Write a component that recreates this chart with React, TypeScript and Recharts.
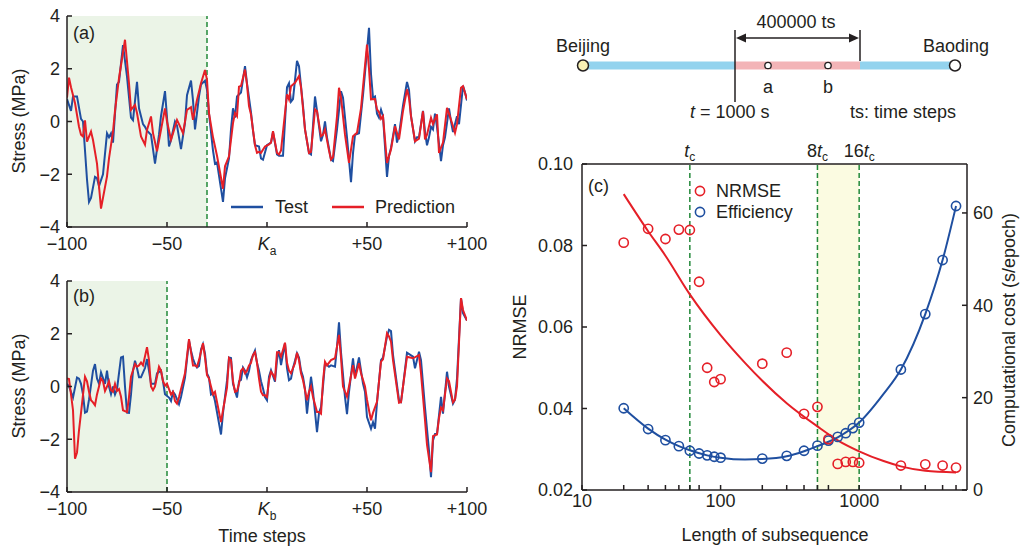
import React from "react";
import {
  ComposedChart,
  Line,
  LineChart,
  ReferenceArea,
  ReferenceLine,
  Scatter,
  XAxis,
  YAxis,
} from "recharts";

const FONT = "'Liberation Sans', Arial, sans-serif";
const INK = "#231f20";
const BLUE = "#1f4fa0";
const RED = "#e51f27";
const GREEN = "#23893a";

// (a) stress around K_a: [time step, MPa]
const aTest: [number, number][] = [
  [-100, 0.85], [-98, 0.4], [-97, 0.95], [-95, 0.95], [-93, 0.1], [-92, 0.0], [-90, -2.2], [-89, -3.05],
  [-88, -2.9], [-86, -2.1], [-85, -2.15], [-84, -2.45], [-82, -2.0], [-80, -0.45], [-79, -0.6], [-78, -0.45],
  [-77, -0.8], [-75, 1.4], [-74, 1.5], [-72, 2.9], [-70, 1.7], [-68, 0.15], [-67, 0.05], [-65, 1.5],
  [-64, 0.5], [-62, -0.1], [-61, -0.2], [-60, -0.35], [-58, -0.5], [-56, -1.6], [-54, -0.5], [-53, 0.2],
  [-51, 1.15], [-50, 0.15], [-49, -0.95], [-48, -0.7], [-46, 0.0], [-45, -0.15], [-43, -1.05], [-41, -0.05],
  [-40, 1.0], [-38, 1.55], [-37, 0.8], [-36, -0.3], [-34, 0.95], [-33, 1.4], [-31, 1.55], [-30, 1.2],
  [-29, 0.3], [-27, -1.1], [-26, -1.6], [-25, -1.55], [-22, -3.05], [-21, -2.15], [-19, -1.4], [-18, -0.3],
  [-17, 0.5], [-16, 0.15], [-15, 0.95], [-13, 1.1], [-11, 2.1], [-10, 1.45], [-8, 0.35], [-7, -0.35],
  [-6, -0.9], [-4, -0.95], [-3, -1.4], [-2, -1.45], [0, -0.9], [2, -0.8], [3, -0.4], [5, -1.25],
  [6, -1.3], [8, -1.3], [10, 1.3], [11, 1.45], [12, 0.75], [13, 0.85], [15, 2.3], [16, 2.1],
  [18, 0.6], [19, -0.3], [21, -1.2], [22, -1.25], [24, 0.95], [25, 0.4], [27, -0.75], [28, -0.5],
  [29, 0.0], [30, -0.6], [32, -1.45], [33, -1.5], [35, -0.3], [37, 1.15], [38, 0.9], [40, -0.6],
  [42, -2.3], [43, -1.2], [44, -0.5], [46, -0.45], [48, 1.0], [51, 3.55], [52, 1.8], [53, 0.9],
  [54, 0.95], [55, 0.3], [56, 0.15], [57, 0.45], [58, 0.2], [60, -2.1], [61, -1.3], [62, -1.0],
  [64, -0.1], [65, -0.8], [66, -0.5], [68, 0.6], [70, 1.5], [71, 1.2], [72, 0.2], [74, -0.75],
  [75, -0.6], [76, -0.6], [78, 0.4], [79, -0.4], [80, -0.9], [81, -0.6], [82, -0.2], [83, -0.3],
  [84, 0.3], [85, -0.2], [87, -1.5], [88, -0.9], [89, -0.6], [91, 0.5], [92, 0.0], [93, -0.4],
  [95, 0.2], [96, -0.1], [98, 1.35], [99, 1.1], [100, 0.8],
];

const aPred: [number, number][] = [
  [-100, 0.9], [-99, 1.66], [-98, 1.3], [-96, 0.7], [-94, -0.2], [-93, -0.5], [-92, -0.57], [-91, 0.04],
  [-90, -0.76], [-88, -0.38], [-87, -0.7], [-85, -1.6], [-83, -3.3], [-80, -2.08], [-79, -1.4], [-77, -0.38],
  [-76, 0.4], [-74, 1.64], [-71, 3.1], [-69, 1.45], [-68, 0.44], [-66, 0.63], [-65, 0.32], [-63, -0.57],
  [-61, -0.88], [-60, -0.32], [-58, 0.19], [-57, -0.44], [-55, -1.13], [-53, -0.32], [-51, 0.5], [-50, 0.0],
  [-48, -0.69], [-47, -0.45], [-45, 0.06], [-44, -0.1], [-42, -0.44], [-40, 0.44], [-38, 0.54], [-37, 0.06],
  [-35, 0.82], [-33, 1.45], [-31, 1.95], [-30, 1.58], [-29, 0.32], [-27, -0.6], [-25, -1.3], [-22, -2.55],
  [-21, -1.7], [-19, -1.32], [-17, -0.06], [-16, 0.32], [-15, 0.2], [-14, 1.32], [-13, 1.35], [-11, 1.97],
  [-10, 1.4], [-9, 0.58], [-8, 0.26], [-6, -0.9], [-5, -1.19], [-4, -1.15], [-3, -1.19], [-1, -0.95],
  [1, -0.87], [2, -0.8], [3, -0.37], [5, -1.19], [6, -1.25], [7, -1.1], [10, 1.03], [11, 0.84],
  [12, 1.34], [14, 1.47], [16, 1.72], [17, 1.3], [19, -0.3], [21, -1.19], [22, -1.15], [24, 0.46],
  [25, 0.4], [27, -0.56], [28, -0.5], [29, -0.3], [31, -1.1], [32, -1.44], [33, -1.35], [35, 0.2],
  [36, 1.28], [37, 0.9], [39, -0.5], [41, -1.57], [43, -0.56], [45, -0.43], [47, 0.5], [50, 2.92],
  [51, 2.0], [52, 0.84], [54, 0.85], [55, 0.46], [56, 0.35], [57, 0.1], [58, 0.2], [60, -1.57],
  [62, -1.06], [64, -0.18], [66, -0.68], [68, 0.4], [70, 1.22], [71, 0.9], [72, 0.2], [74, -0.75],
  [76, -0.65], [78, 0.39], [79, -0.68], [80, -0.5], [82, 0.14], [83, -0.1], [85, 0.27], [86, -1.19],
  [88, -0.8], [90, 0.52], [91, 0.3], [93, -0.18], [94, -0.43], [95, -0.1], [97, 1.28], [98, 1.34],
  [100, 0.84],
];

// (b) stress around K_b
const bTest: [number, number][] = [
  [-100, 0.1], [-99, 0.0], [-97, -0.42], [-95, 0.34], [-94, 0.3], [-93, 0.1], [-92, -0.3], [-91, -0.99],
  [-90, -0.95], [-89, -0.5], [-87, 0.6], [-86, 0.85], [-85, 0.3], [-84, 0.1], [-83, 0.53], [-81, 0.1],
  [-80, 0.6], [-79, 0.0], [-78, -0.29], [-77, 0.0], [-76, -0.3], [-75, -0.1], [-73, 1.1], [-72, 1.13],
  [-71, 0.0], [-70, -0.99], [-69, -1.0], [-68, -0.3], [-67, 0.6], [-66, 0.98], [-65, 0.7], [-64, 0.35],
  [-63, 0.35], [-61, 0.7], [-60, 1.04], [-59, 0.6], [-58, 0.1], [-56, 0.1], [-55, 0.5], [-53, 0.6],
  [-52, 0.2], [-51, -0.29], [-49, -0.42], [-48, -0.55], [-47, -0.2], [-46, -0.3], [-44, -0.67], [-43, -0.4],
  [-41, 0.34], [-39, 1.74], [-38, 1.36], [-37, 1.05], [-36, 0.85], [-35, 0.72], [-34, 0.78], [-33, 1.4],
  [-32, 1.61], [-31, 1.25], [-30, 0.5], [-29, 0.34], [-28, -0.3], [-27, -0.25], [-26, -0.55], [-23, -1.82],
  [-22, -1.0], [-20, 0.22], [-19, 1.1], [-18, 1.08], [-17, 0.1], [-15, -0.42], [-14, 0.2], [-13, 0.25],
  [-12, 0.72], [-11, 0.6], [-10, 0.35], [-9, 0.6], [-8, 1.0], [-6, 1.36], [-5, 0.9], [-4, 0.6],
  [-3, 0.2], [-2, -0.08], [-1, -0.4], [0, -0.52], [1, 0.37], [2, 0.62], [4, 0.18], [5, 1.0],
  [6, 1.38], [7, 0.81], [9, 1.64], [10, 0.7], [11, 0.24], [12, 0.3], [13, 0.69], [15, 1.26],
  [16, 1.1], [17, 0.6], [18, 0.37], [19, -0.1], [20, -1.03], [21, -0.3], [22, 0.37], [23, -0.2],
  [25, -1.73], [26, -1.0], [27, -0.78], [28, 0.0], [29, 0.88], [31, 0.75], [32, 0.8], [34, 0.75],
  [35, 1.5], [36, 2.43], [37, 1.3], [39, -0.4], [40, -1.05], [41, -0.2], [43, 1.07], [44, 0.37],
  [46, 1.1], [47, 0.6], [48, 0.11], [49, -0.2], [50, -1.16], [52, -1.6], [53, -1.35], [54, -1.6],
  [55, -0.6], [57, 1.0], [58, 1.1], [60, 1.89], [61, 2.15], [62, 2.1], [63, 1.2], [66, -0.52],
  [67, -0.58], [68, 0.0], [70, 1.28], [73, 1.13], [74, 0.69], [76, 1.32], [77, 1.0], [79, -0.8],
  [81, -2.43], [82, -3.44], [83, -2.05], [84, -1.8], [85, -1.8], [87, -0.39], [88, -1.03], [90, 0.56],
  [91, 0.0], [93, -0.65], [94, -0.5], [95, 0.3], [97, 3.35], [98, 2.78], [100, 2.5],
];

const bPred: [number, number][] = [
  [-100, 0.3], [-99, 0.28], [-98, -0.3], [-97, -0.9], [-96, -2.74], [-95, -2.5], [-94, -1.66], [-93, -1.0],
  [-91, 0.37], [-90, 0.2], [-89, -0.2], [-88, -0.52], [-87, -0.6], [-86, -0.71], [-85, -0.3], [-83, 0.3],
  [-82, 0.2], [-81, -0.17], [-80, 0.0], [-79, 0.2], [-78, -0.14], [-77, -0.2], [-76, 0.1], [-75, -0.17],
  [-74, -0.1], [-73, -0.39], [-72, -0.9], [-70, -0.97], [-69, -0.4], [-68, 0.37], [-66, 0.85], [-65, 0.75],
  [-64, 0.8], [-63, 0.91], [-62, 0.8], [-60, 1.49], [-59, 1.0], [-58, 0.0], [-57, -0.14], [-56, 0.0],
  [-54, 0.75], [-53, 0.6], [-52, 0.2], [-51, 0.03], [-50, 0.11], [-49, -0.1], [-48, -0.3], [-47, -0.2],
  [-46, -0.55], [-45, -0.65], [-44, -0.4], [-42, 0.2], [-41, 0.5], [-39, 1.8], [-38, 1.3], [-37, 0.8],
  [-36, 0.8], [-35, 0.75], [-34, 1.0], [-32, 1.64], [-31, 1.1], [-30, 0.43], [-29, 0.3], [-28, 0.0],
  [-27, -0.3], [-26, -0.2], [-23, -1.35], [-22, -0.9], [-20, -0.04], [-19, 1.08], [-18, 1.0], [-17, 0.2],
  [-16, -0.2], [-15, -0.17], [-14, 0.1], [-13, 0.6], [-12, 0.69], [-11, 0.5], [-10, 0.6], [-9, 0.8],
  [-8, 0.9], [-7, 1.2], [-6, 1.3], [-5, 0.9], [-4, 0.3], [-3, -0.2], [-2, -0.33], [-1, -0.33],
  [0, -0.4], [1, 0.24], [2, 0.56], [3, 0.45], [4, 0.3], [5, 1.3], [6, 1.3], [7, 1.13],
  [9, 1.66], [10, 0.9], [11, 0.6], [12, 0.5], [13, 0.7], [14, 0.88], [15, 1.28], [16, 1.0],
  [17, 0.5], [18, 0.24], [20, -0.52], [21, -0.2], [22, 0.0], [23, -0.4], [25, -0.97], [26, -0.97],
  [27, -1.03], [28, 0.2], [29, 0.94], [30, 0.8], [32, 1.0], [34, 1.07], [36, 1.96], [37, 1.1],
  [38, 0.0], [40, -0.39], [41, 0.0], [43, 0.81], [44, 0.3], [46, 0.88], [47, 0.5], [49, 0.0],
  [50, -0.5], [51, -0.9], [52, -1.28], [53, -1.0], [55, -0.58], [57, 0.94], [58, 1.03], [60, 2.02],
  [61, 1.9], [62, 1.7], [63, 1.0], [66, -0.62], [67, -0.6], [68, 0.0], [70, 1.13], [73, 1.07],
  [76, 1.19], [77, 0.5], [79, -1.28], [80, -2.2], [82, -3.25], [83, -1.88], [84, -1.85], [85, -1.82],
  [86, -1.2], [87, -0.8], [88, -0.9], [90, 0.3], [91, 0.2], [93, -0.6], [94, -0.5], [95, 0.0],
  [97, 3.35], [98, 2.9], [100, 2.5],
];

const timeTicks = [-100, -50, 0, 50, 100];
const stressTicks = [-4, -2, 0, 2, 4];
const aSplit = -30;
const bSplit = -50;

// (c) subsequence length vs NRMSE and cost
const subLengths = [20, 30, 40, 50, 60, 70, 80, 90, 100, 200, 300, 400, 500, 600, 700, 800, 900, 1000, 2000, 3000, 4000, 5000];
const nrmse = [0.0807, 0.0841, 0.0816, 0.0839, 0.0838, 0.0711, 0.05, 0.0465, 0.0472, 0.051, 0.0537, 0.0387, 0.0404, 0.0325, 0.0264, 0.0269, 0.0269, 0.0267, 0.026, 0.0263, 0.026, 0.0255];
const efficiency = [17.7, 13.2, 10.8, 9.5, 8.5, 7.9, 7.5, 7.2, 7.0, 6.8, 7.4, 8.5, 9.6, 10.7, 11.5, 12.3, 13.4, 14.6, 26.1, 38.1, 49.8, 61.5];
const nrmseFitX = [20, 30, 40, 60, 100, 150, 200, 300, 500, 700, 1000, 1500, 2000, 3000, 5000];
const nrmseFitY = [0.0926, 0.0835, 0.0775, 0.068, 0.058, 0.0512, 0.0468, 0.0413, 0.0356, 0.0322, 0.0295, 0.0271, 0.0258, 0.0247, 0.0243];
const effFitX = [20, 30, 40, 50, 60, 80, 100, 150, 200, 300, 400, 500, 700, 1000, 1500, 2000, 3000, 4000, 5000];
const effFitY = [17.7, 13.3, 10.9, 9.5, 8.6, 7.5, 7.0, 6.6, 6.7, 7.3, 8.4, 9.5, 11.4, 14.6, 20.8, 26.1, 38.1, 49.8, 61.5];
const lengthTicks = [10, 20, 30, 40, 50, 60, 70, 80, 90, 100, 200, 300, 400, 500, 600, 700, 800, 900, 1000, 2000, 3000, 4000, 5000];
const nrmseTicks = [0.02, 0.04, 0.06, 0.08, 0.1];
const costTicks = [0, 20, 40, 60];
const tc = 60;
const band = [500, 1000];

const signed = (v: number) => (v < 0 ? "\u2212" + Math.abs(v) : String(v));

const axisStyle = { stroke: INK, strokeWidth: 1.5 };
const tickText = { fill: INK, fontSize: 18, fontFamily: FONT };

const TimeTick = (props: any) => {
  const { x, y, payload, sub } = props;
  const v = payload.value;
  if (v === 0) {
    return (
      <text x={x} y={y} dy="0.71em" textAnchor="middle" {...tickText}>
        <tspan fontStyle="italic">K</tspan>
        <tspan fontSize={12} dy={5}>{sub}</tspan>
      </text>
    );
  }
  return (
    <text x={x} y={y} dy="0.71em" textAnchor="middle" {...tickText}>
      {v > 0 ? "+" + v : signed(v)}
    </text>
  );
};

const SeriesPanel = ({ test, pred, split, sub, top, height }: any) => {
  const testData = test.map(([t, v]: number[]) => ({ t, v }));
  const predData = pred.map(([t, v]: number[]) => ({ t, v }));
  return (
    <div style={{ position: "absolute", left: 0, top }}>
      <LineChart width={505} height={height} margin={{ top: 16, right: 38, left: 0, bottom: 0 }}>
        <XAxis
          xAxisId="b"
          type="number"
          dataKey="t"
          domain={[-100, 100]}
          ticks={timeTicks}
          allowDataOverflow
          height={height - 16 - 211}
          tickSize={-5}
          tickMargin={15}
          axisLine={axisStyle}
          tickLine={axisStyle}
          tick={<TimeTick sub={sub} />}
        />
        <XAxis
          xAxisId="t"
          orientation="top"
          type="number"
          domain={[-100, 100]}
          ticks={timeTicks}
          allowDataOverflow
          height={0}
          tickSize={-5}
          axisLine={axisStyle}
          tickLine={axisStyle}
          tick={false}
        />
        <YAxis
          yAxisId="l"
          type="number"
          domain={[-4, 4]}
          ticks={stressTicks}
          allowDataOverflow
          width={67}
          tickSize={-5}
          tickMargin={12}
          axisLine={axisStyle}
          tickLine={axisStyle}
          tick={tickText}
          tickFormatter={signed}
        />
        <YAxis
          yAxisId="r"
          orientation="right"
          type="number"
          domain={[-4, 4]}
          ticks={stressTicks}
          allowDataOverflow
          width={0}
          tickSize={-5}
          axisLine={axisStyle}
          tickLine={axisStyle}
          tick={false}
        />
        <ReferenceArea xAxisId="b" yAxisId="l" x1={-100} x2={split} fill="#ebf4e7" fillOpacity={1} stroke="none" />
        <ReferenceLine xAxisId="b" yAxisId="l" x={split} stroke={GREEN} strokeWidth={1.5} strokeDasharray="5 3" />
        <Line xAxisId="b" yAxisId="l" data={testData} dataKey="v" type="linear" stroke={BLUE} strokeWidth={2} dot={false} isAnimationActive={false} />
        <Line xAxisId="b" yAxisId="l" data={predData} dataKey="v" type="linear" stroke={RED} strokeWidth={2} dot={false} isAnimationActive={false} />
      </LineChart>
    </div>
  );
};

const Ring = (color: string) => (props: any) => (
  <circle cx={props.cx} cy={props.cy} r={4.6} fill="none" stroke={color} strokeWidth={1.6} />
);

const MarkLabel = (props: any) => {
  const { viewBox, k } = props;
  return (
    <text x={viewBox.x} y={viewBox.y - 7} textAnchor="middle" {...tickText}>
      {k}
      <tspan fontStyle="italic">t</tspan>
      <tspan fontSize={12} dy={4}>c</tspan>
    </text>
  );
};

const LengthChart = () => {
  const nrmsePts = subLengths.map((x, i) => ({ x, y: nrmse[i] }));
  const effPts = subLengths.map((x, i) => ({ x, y: efficiency[i] }));
  const nrmseFit = nrmseFitX.map((x, i) => ({ x, y: nrmseFitY[i] }));
  const effFit = effFitX.map((x, i) => ({ x, y: effFitY[i] }));
  return (
    <div style={{ position: "absolute", left: 520, top: 130 }}>
      <ComposedChart width={504} height={417} margin={{ top: 0, right: 0, left: 0, bottom: 0 }}>
        <XAxis
          xAxisId="x"
          type="number"
          dataKey="x"
          scale="log"
          domain={[10, 6000]}
          ticks={lengthTicks}
          allowDataOverflow
          height={57}
          tickSize={-5}
          tickMargin={9}
          axisLine={axisStyle}
          tickLine={axisStyle}
          tick={tickText}
          tickFormatter={(v: number) => ([10, 100, 1000].includes(v) ? String(v) : "")}
        />
        <XAxis
          xAxisId="top"
          orientation="top"
          type="number"
          scale="log"
          domain={[10, 6000]}
          ticks={lengthTicks}
          allowDataOverflow
          height={34}
          tickSize={-5}
          axisLine={axisStyle}
          tickLine={axisStyle}
          tick={false}
        />
        <YAxis
          yAxisId="l"
          type="number"
          domain={[0.02, 0.1]}
          ticks={nrmseTicks}
          allowDataOverflow
          width={62}
          tickSize={-5}
          tickMargin={14}
          axisLine={axisStyle}
          tickLine={axisStyle}
          tick={tickText}
          tickFormatter={(v: number) => v.toFixed(2)}
        />
        <YAxis
          yAxisId="r"
          orientation="right"
          type="number"
          domain={[0, 70.6]}
          ticks={costTicks}
          allowDataOverflow
          width={57}
          tickSize={-5}
          tickMargin={11}
          axisLine={axisStyle}
          tickLine={axisStyle}
          tick={tickText}
        />
        <ReferenceArea xAxisId="x" yAxisId="l" x1={band[0]} x2={band[1]} fill="#fbfbe1" fillOpacity={1} stroke="none" />
        <ReferenceLine xAxisId="x" yAxisId="l" x={tc} stroke={GREEN} strokeWidth={1.5} strokeDasharray="5 3" label={<MarkLabel k="" />} />
        <ReferenceLine xAxisId="x" yAxisId="l" x={band[0]} stroke={GREEN} strokeWidth={1.5} strokeDasharray="5 3" label={<MarkLabel k="8" />} />
        <ReferenceLine xAxisId="x" yAxisId="l" x={band[1]} stroke={GREEN} strokeWidth={1.5} strokeDasharray="5 3" label={<MarkLabel k="16" />} />
        <Line xAxisId="x" yAxisId="l" data={nrmseFit} dataKey="y" type="monotone" stroke={RED} strokeWidth={2} dot={false} isAnimationActive={false} />
        <Line xAxisId="x" yAxisId="r" data={effFit} dataKey="y" type="monotone" stroke={BLUE} strokeWidth={2} dot={false} isAnimationActive={false} />
        <Scatter xAxisId="x" yAxisId="r" data={effPts} dataKey="y" shape={Ring(BLUE)} isAnimationActive={false} />
        <Scatter xAxisId="x" yAxisId="l" data={nrmsePts} dataKey="y" shape={Ring(RED)} isAnimationActive={false} />
      </ComposedChart>
    </div>
  );
};

const Overlay = () => (
  <svg width={1024} height={547} style={{ position: "absolute", left: 0, top: 0, pointerEvents: "none" }} fontFamily={FONT} fill={INK} fontSize={18}>
    {/* panel tags and titles */}
    <text x={73} y={39}>(a)</text>
    <text x={73} y={302}>(b)</text>
    <text x={588} y={192}>(c)</text>
    <text transform="translate(25 121) rotate(-90)" textAnchor="middle">Stress (MPa)</text>
    <text transform="translate(25 386) rotate(-90)" textAnchor="middle">Stress (MPa)</text>
    <text x={262} y={542} textAnchor="middle">Time steps</text>
    <text x={775} y={541} textAnchor="middle">Length of subsequence</text>
    <text transform="translate(526 327) rotate(-90)" textAnchor="middle">NRMSE</text>
    <text transform="translate(1015 330) rotate(-90)" textAnchor="middle">Computational cost (s/epoch)</text>

    {/* legend (a) */}
    <line x1={231} x2={263} y1={207} y2={207} stroke={BLUE} strokeWidth={2.5} />
    <text x={275} y={213}>Test</text>
    <line x1={332} x2={364} y1={207} y2={207} stroke={RED} strokeWidth={2.5} />
    <text x={375} y={213}>Prediction</text>

    {/* legend (c) */}
    <circle cx={700} cy={191} r={4.6} fill="none" stroke={RED} strokeWidth={1.6} />
    <text x={716} y={197}>NRMSE</text>
    <circle cx={700} cy={212} r={4.6} fill="none" stroke={BLUE} strokeWidth={1.6} />
    <text x={716} y={218}>Efficiency</text>

    {/* route sketch */}
    <text x={583} y={52} textAnchor="middle">Beijing</text>
    <text x={956} y={52} textAnchor="middle">Baoding</text>
    <text x={796} y={28} textAnchor="middle">400000 ts</text>
    <line x1={583} x2={735} y1={65.5} y2={65.5} stroke="#93d3ee" strokeWidth={8} />
    <line x1={735} x2={860} y1={65.5} y2={65.5} stroke="#f3b4b7" strokeWidth={8} />
    <line x1={860} x2={955} y1={65.5} y2={65.5} stroke="#93d3ee" strokeWidth={8} />
    <line x1={735} x2={735} y1={30} y2={102} stroke={INK} strokeWidth={1.5} />
    <line x1={860} x2={860} y1={30} y2={61} stroke={INK} strokeWidth={1.5} />
    <line x1={742} x2={853} y1={38} y2={38} stroke={INK} strokeWidth={1.5} />
    <path d="M736,38 L746,33.5 L746,42.5 Z" fill={INK} />
    <path d="M859,38 L849,33.5 L849,42.5 Z" fill={INK} />
    <circle cx={583} cy={65.5} r={5.5} fill="#f6f0b4" stroke={INK} strokeWidth={1.5} />
    <circle cx={955} cy={65.5} r={5.5} fill="#fff" stroke={INK} strokeWidth={1.5} />
    <circle cx={768} cy={65.5} r={3.2} fill="#fff" stroke={INK} strokeWidth={1.3} />
    <circle cx={828} cy={65.5} r={3.2} fill="#fff" stroke={INK} strokeWidth={1.3} />
    <text x={768} y={93} textAnchor="middle">a</text>
    <text x={828} y={93} textAnchor="middle">b</text>
    <text x={690} y={118}>
      <tspan fontStyle="italic">t</tspan> = 1000 s
    </text>
    <text x={850} y={118}>ts: time steps</text>
  </svg>
);

export default function App() {
  return (
    <div style={{ position: "absolute", left: 0, top: 0, width: 1024, height: 547, background: "#fff", fontFamily: FONT, overflow: "hidden" }}>
      <SeriesPanel test={aTest} pred={aPred} split={aSplit} sub="a" top={0} height={260} />
      <SeriesPanel test={bTest} pred={bPred} split={bSplit} sub="b" top={265} height={282} />
      <LengthChart />
      <Overlay />
    </div>
  );
}
